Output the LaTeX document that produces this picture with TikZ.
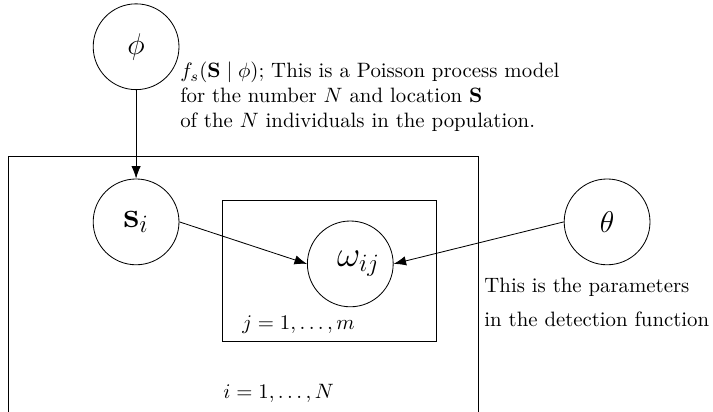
\documentclass[tikz,border=0pt]{standalone}
\usepackage{amsmath}
\usepackage{amssymb}
\usepackage{tikz}
\usetikzlibrary{arrows.meta, positioning, calc}
\tikzset{
  latent/.style={circle, draw=black, minimum size=1.45cm, inner sep=0pt,
    text centered},
  plate/.style={rectangle, draw=black},
  note/.style={align=left, inner sep=0pt, font=\normalsize},
  arrow/.style={-{Latex[length=6pt,width=4.5pt]}}
}

\begin{document}
\begin{tikzpicture}
\useasboundingbox (0,0) rectangle (12.05,6.96);
\clip (0,0) rectangle (12.05,6.96);

% plates
\draw [plate] (0.135,-0.5) -- (0.135,4.31) -- (8.08,4.31) -- (8.08,-0.5);
\node (plateJ) [plate, minimum width=3.62cm, minimum height=2.38cm, anchor=north west]
  at (3.75,3.58) {};

% nodes
\node (phi)   [latent] at (2.30,6.17)  {\Large $\phi$};
\node (si)    [latent] at (2.30,3.21)  {\LARGE $\mathbf{s}_i$};
\node (omega) [latent] at (5.92,2.50)  {\hspace{8pt}\LARGE $\omega_{ij}$};
\node (theta) [latent] at (10.26,3.21) {\Large $\theta$};

% texts (base = last line)
\node (modelNote) [note, anchor=base west] at (3.04,4.80)
  {$f_s(\mathbf{S}\mid\phi)$; This is a Poisson process model\\
   for the number $N$ and location $\mathbf{S}$\\
   of the $N$ individuals in the population.};
\node (thetaNote) [note, anchor=base west] at (8.18,1.45)
  {This is the parameters\\[4pt] in the detection function};
\node (jIdx) [anchor=base west, inner sep=0pt] at (4.09,1.39) {$j=1,\ldots,m$};
\node (iIdx) [anchor=base west, inner sep=0pt] at (3.77,0.22) {$i=1,\ldots,N$};

% edges
\draw [arrow] (phi)        -- (si);
\draw [arrow] (si.east)    -- (omega.west);
\draw [arrow] (theta.west) -- (omega.east);
\end{tikzpicture}
\end{document}
